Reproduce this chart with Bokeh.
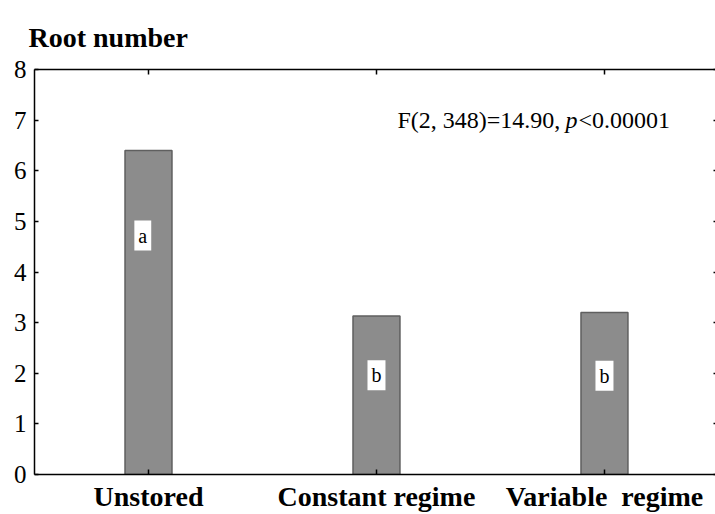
from bokeh.plotting import figure
from bokeh.models import Range1d, LinearAxis, FixedTicker, Label
from bokeh.embed import file_html
from bokeh.resources import INLINE

categories = ["Unstored", "Constant regime", "Variable  regime"]
root_number = [6.4, 3.13, 3.2]
group_letters = ["a", "b", "b"]
letter_x = [-0.025, 1.0, 2.0]
letter_y = [4.72, 1.96, 1.95]
y_ticks = [0, 1, 2, 3, 4, 5, 6, 7, 8]
x_pos = list(range(len(categories)))

FONT = "Liberation Serif"

p = figure(width=715, height=514, output_backend="svg", toolbar_location=None,
           x_range=Range1d(-0.5, 2.487), y_range=Range1d(0, 8),
           x_axis_location=None, y_axis_location=None,
           min_border_left=34, min_border_right=0, min_border_top=69,
           min_border_bottom=39)
p.outline_line_color = None
p.xgrid.visible = False
p.ygrid.visible = False

p.title.text = "Root number"
p.title.text_font = FONT
p.title.text_font_size = "28px"
p.title.text_font_style = "bold"
p.title.text_color = "black"
p.title.align = "left"
p.title.offset = -6
p.title.standoff = 34

p.vbar(x=x_pos, top=root_number, width=0.206, bottom=0,
       fill_color="#8c8c8c", line_color="#5f5f5f", line_width=1.5)


def bare_axis(ticks, tick_in):
    ax = LinearAxis(ticker=FixedTicker(ticks=ticks),
                    major_label_overrides={t: "" for t in ticks})
    ax.major_tick_in = tick_in
    ax.major_tick_out = 0
    ax.minor_tick_in = 0
    ax.minor_tick_out = 0
    ax.major_tick_line_width = 1.5
    ax.major_label_standoff = 0
    ax.major_label_text_font_size = "1px"
    return ax


# left axis
left = LinearAxis(ticker=FixedTicker(ticks=y_ticks))
left.major_tick_in = 4
left.major_tick_out = 0
left.minor_tick_in = 0
left.minor_tick_out = 0
left.axis_line_width = 1.5
left.major_tick_line_width = 1.5
left.major_label_text_font = FONT
left.major_label_text_font_size = "25px"
left.major_label_text_color = "black"
left.major_label_standoff = 8
p.add_layout(left, "left")

# bottom axis
bottom = LinearAxis(ticker=FixedTicker(ticks=x_pos),
                    major_label_overrides={i: c.replace("  ", "\u00a0 ")
                                           for i, c in enumerate(categories)})
bottom.major_tick_in = 5
bottom.major_tick_out = 0
bottom.minor_tick_in = 0
bottom.minor_tick_out = 0
bottom.axis_line_width = 1.5
bottom.major_tick_line_width = 1.5
bottom.major_label_text_font = FONT
bottom.major_label_text_font_size = "28px"
bottom.major_label_text_font_style = "bold"
bottom.major_label_text_color = "black"
bottom.major_label_standoff = 6
p.add_layout(bottom, "below")

# top axis (line + inward ticks)
top = bare_axis(x_pos, 5)
top.axis_line_width = 1.5
p.add_layout(top, "above")

# right side: tiny inward ticks only
right = bare_axis(y_ticks, 2)
right.axis_line_color = None
p.add_layout(right, "right")

# group letters
for lx, ly, lt in zip(letter_x, letter_y, group_letters):
    p.add_layout(Label(x=lx, y=ly, text=lt, text_align="center",
                       text_baseline="middle", text_font=FONT,
                       text_font_size="20px", text_color="black",
                       background_fill_color="white", padding=4))

# statistics annotation
ax, ay = 1.092, 7.0
p.add_layout(Label(x=ax, y=ay, text="F(2, 348)=14.90,", text_font=FONT,
                   text_font_size="24px", text_color="black",
                   text_baseline="alphabetic"))
p.add_layout(Label(x=ax, y=ay, x_offset=168, text="p", text_font=FONT,
                   text_font_size="24px", text_font_style="italic",
                   text_color="black", text_baseline="alphabetic"))
p.add_layout(Label(x=ax, y=ay, x_offset=181, text="<0.00001", text_font=FONT,
                   text_font_size="24px", text_color="black",
                   text_baseline="alphabetic"))

open("out.html", "w").write(file_html(p, INLINE))
